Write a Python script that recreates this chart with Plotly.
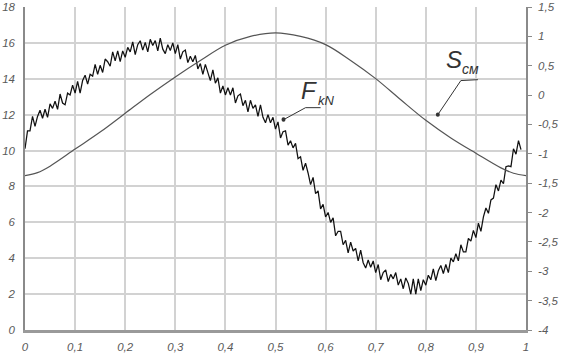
import plotly.graph_objects as go

# ---------------- data ----------------
F_kN = [
    10.1, 11.1, 11.1, 11.9, 11.35, 11.9, 12.25, 11.8, 12.3, 11.85,
    12.6, 12.35, 12.75, 12.3, 13.15, 12.65, 12.55, 13.2, 13.1, 13.65,
    13.2, 13.85, 13.2, 13.9, 14.2, 13.7, 14.25, 14.15, 14.8, 14.25,
    14.75, 14.35, 15.1, 14.95, 14.7, 15.5, 15.0, 15.55, 14.95, 15.55,
    15.2, 15.75, 15.5, 16.05, 15.35, 15.9, 16.12, 15.6, 16.03, 15.5,
    16.2, 15.85, 16.13, 15.55, 16.27, 15.65, 15.4, 15.9, 15.58, 16.0,
    15.4, 15.9, 15.1, 15.5, 15.6, 14.9, 15.25, 14.95, 15.3, 14.55,
    14.85, 14.25, 14.8, 14.4, 13.9, 14.5, 13.75, 14.05, 13.2, 13.6,
    13.1, 13.5, 13.1, 13.5, 12.65, 13.05, 13.15, 12.5, 12.8, 12.15,
    12.8, 12.35, 12.55, 11.9, 12.55, 11.85, 11.55, 12.0, 11.55, 11.85,
    11.2, 11.6, 10.7, 11.05, 11.1, 10.3, 10.55, 10.15, 10.4, 9.55,
    9.65, 8.9, 9.3, 8.75, 8.1, 8.5, 7.6, 7.75, 6.75, 7.0,
    6.3, 6.55, 6.0, 6.25, 5.25, 5.5, 5.5, 4.75, 5.0, 4.3,
    4.9, 4.4, 4.55, 3.85, 4.45, 3.75, 3.45, 3.9, 3.5, 3.85,
    3.2, 3.65, 2.8, 3.2, 3.35, 2.7, 3.1, 2.85, 3.2, 2.5,
    2.85, 2.3, 2.9, 2.6, 2.0, 2.85, 2.0, 2.85, 2.2, 2.8,
    2.5, 3.05, 2.8, 3.4, 2.75, 3.3, 3.6, 3.15, 3.65, 3.2,
    4.0, 3.8, 4.25, 3.85, 4.75, 4.35, 4.35, 5.1, 4.95, 5.55,
    5.15, 5.95, 5.5, 6.3, 6.8, 6.5, 7.25, 7.35, 8.1, 7.75,
    8.35, 8.15, 9.1, 9.15, 9.1, 10.1, 9.8, 10.55, 10.05,
]
F_step = 0.005
x_F = [round(i * F_step, 3) for i in range(len(F_kN))]

x_S = [0, 0.025, 0.05, 0.1, 0.15, 0.2, 0.25, 0.3, 0.35, 0.4, 0.45, 0.5,
       0.55, 0.6, 0.65, 0.7, 0.75, 0.8, 0.85, 0.9, 0.95, 0.975, 1.0]
S_cm = [-1.37, -1.32, -1.21, -0.92, -0.63, -0.31, 0.01, 0.31, 0.59, 0.85, 1.0, 1.06,
        1.0, 0.86, 0.59, 0.28, -0.08, -0.43, -0.73, -0.99, -1.24, -1.33, -1.37]

x_tick_vals = [0, 0.1, 0.2, 0.3, 0.4, 0.5, 0.6, 0.7, 0.8, 0.9, 1]
x_tick_text = ["0", "0,1", "0,2", "0,3", "0,4", "0,5", "0,6", "0,7", "0,8", "0,9", "1"]
y_tick_vals = [0, 2, 4, 6, 8, 10, 12, 14, 16, 18]
y_tick_text = ["0", "2", "4", "6", "8", "10", "12", "14", "16", "18"]
y2_tick_vals = [-4, -3.5, -3, -2.5, -2, -1.5, -1, -0.5, 0, 0.5, 1, 1.5]
y2_tick_text = ["-4", "-3,5", "-3", "-2,5", "-2", "-1,5", "-1", "-0,5", "0", "0,5", "1", "1,5"]

# ---------------- style ----------------
FONT = "Liberation Sans, Arial, sans-serif"
TICKFONT = dict(family=FONT, size=11.5, color="#5a5a5a", style="italic")
GRID = "#d2d2d2"

fig = go.Figure()
fig.add_trace(go.Scatter(x=x_S, y=S_cm, yaxis="y2", mode="lines",
                         line=dict(color="#555555", width=1.2, shape="spline", smoothing=1.0),
                         showlegend=False, hoverinfo="skip"))
fig.add_trace(go.Scatter(x=x_F, y=F_kN, mode="lines",
                         line=dict(color="#111111", width=1.25),
                         showlegend=False, hoverinfo="skip"))

fig.update_layout(
    template="none",
    width=566, height=357,
    margin=dict(l=25, r=40, t=7, b=27, autoexpand=False),
    paper_bgcolor="white", plot_bgcolor="white",
    xaxis=dict(range=[0, 1], tickvals=x_tick_vals, ticktext=x_tick_text,
               showgrid=True, gridcolor=GRID, gridwidth=1.5, automargin=False,
               showline=True, linecolor="#9a9a9a", linewidth=2.5,
               zeroline=False, ticks="", tickfont=TICKFONT, ticklabelstandoff=4),
    yaxis=dict(range=[0, 18], tickvals=y_tick_vals, ticktext=y_tick_text,
               showgrid=True, gridcolor=GRID, gridwidth=1.5, automargin=False,
               showline=True, linecolor="#8a8a8a", linewidth=1.5,
               zeroline=False, ticks="", tickfont=TICKFONT, ticklabelstandoff=6),
    yaxis2=dict(range=[-4, 1.5], tickvals=y2_tick_vals, ticktext=y2_tick_text,
                overlaying="y", side="right", showgrid=False, zeroline=False,
                automargin=False,
                showline=True, linecolor="#8a8a8a", linewidth=1.5,
                ticks="outside", ticklen=4, tickcolor="#8a8a8a",
                tickfont=TICKFONT, ticklabelstandoff=4),
)

LABFONT = dict(family=FONT, color="#333333", style="italic")
# F_kN label and leader
fig.add_annotation(x=0.566, y=13.35, xref="x", yref="y", text="F", showarrow=False,
                   font=dict(size=24, **LABFONT))
fig.add_annotation(x=0.602, y=12.8, xref="x", yref="y", text="kN", showarrow=False,
                   font=dict(size=13, **LABFONT))
fig.add_shape(type="path", xref="x", yref="y",
              path="M 0.516 11.72 L 0.56 12.39 L 0.59 12.39",
              line=dict(color="#333333", width=1))
fig.add_shape(type="circle", xref="x", yref="y", x0=0.512, x1=0.520, y0=11.6, y1=11.85,
              fillcolor="#333333", line=dict(width=0))
# S_cm label and leader
fig.add_annotation(x=0.856, y=15.1, xref="x", yref="y", text="S", showarrow=False,
                   font=dict(size=24, **LABFONT))
fig.add_annotation(x=0.89, y=14.55, xref="x", yref="y", text="см", showarrow=False,
                   font=dict(size=14, **LABFONT))
fig.add_shape(type="path", xref="x", yref="y",
              path="M 0.824 12.0 L 0.87 13.9 L 0.904 13.95",
              line=dict(color="#333333", width=1))
fig.add_shape(type="circle", xref="x", yref="y", x0=0.820, x1=0.828, y0=11.88, y1=12.12,
              fillcolor="#333333", line=dict(width=0))

fig.write_html("out.html", config={"displayModeBar": False},
               post_script="document.body.style.margin='0';")
